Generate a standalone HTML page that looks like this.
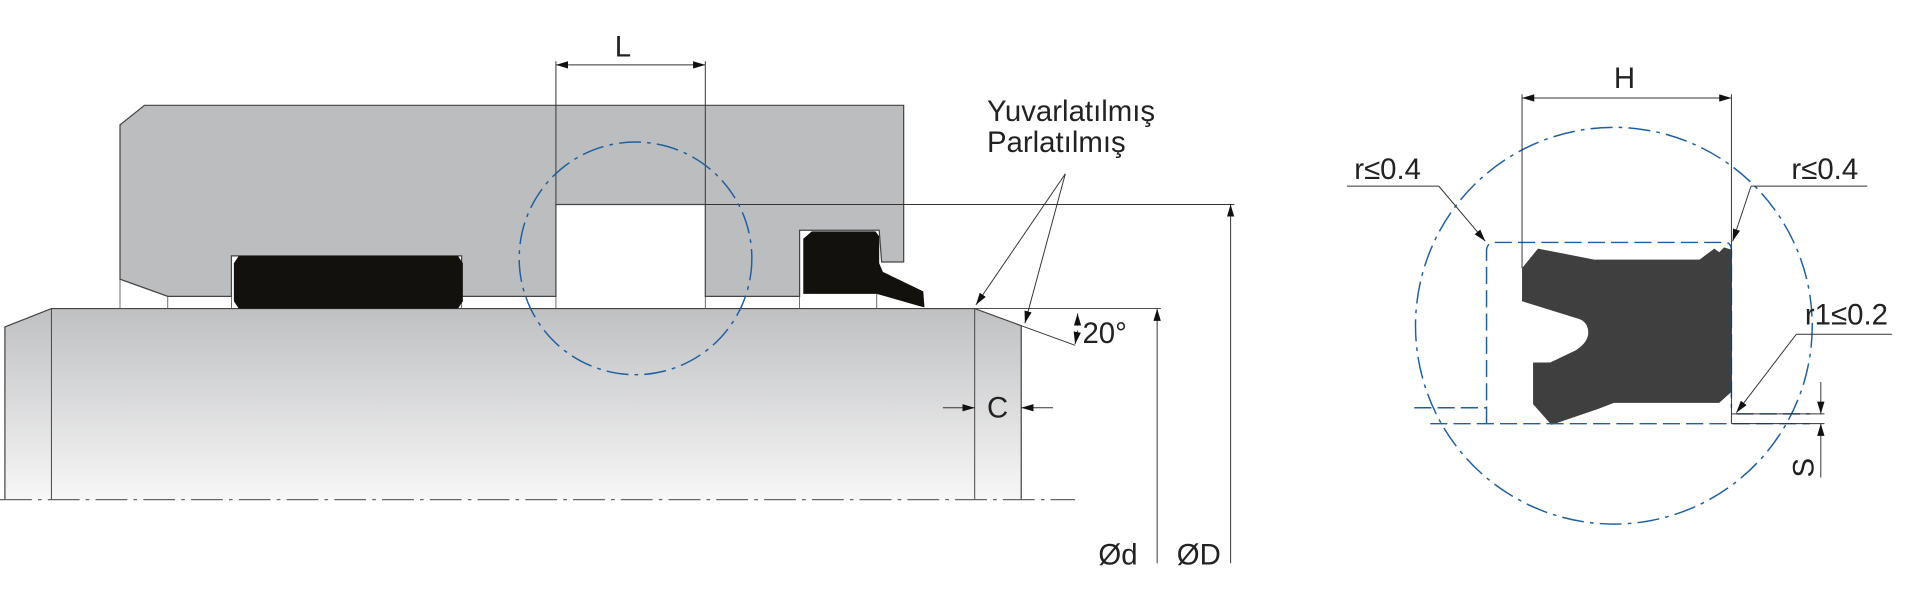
<!DOCTYPE html>
<html><head><meta charset="utf-8"><style>
html,body{margin:0;padding:0;background:#fff;}
svg{display:block;}
text{font-family:"Liberation Sans",sans-serif;fill:#222;}
</style></head><body>
<svg width="1920" height="600" viewBox="0 0 1568 490" xmlns="http://www.w3.org/2000/svg">
<defs>
<linearGradient id="rod" x1="0" y1="0" x2="0" y2="1">
<stop offset="0" stop-color="#bfc0c2"/><stop offset="1" stop-color="#f7f7f7"/>
</linearGradient>
<marker id="ar" markerWidth="10" markerHeight="6" refX="10" refY="3" orient="auto" markerUnits="userSpaceOnUse">
<path d="M0,0 L10,3 L0,6 z" fill="#111"/></marker>
</defs>
<!-- rod -->
<path d="M4,267 L42,252 L796,252 L834,266 L834,408 L4,408 z" fill="url(#rod)"/>
<path d="M4,408 L4,267 L42,252 L796,252 L834,266 L834,408" fill="none" stroke="#444" stroke-width="1"/>
<line x1="42" y1="252" x2="42" y2="408" stroke="#444" stroke-width="0.8"/>
<line x1="796" y1="252" x2="796" y2="408" stroke="#444" stroke-width="0.8"/>
<line x1="0" y1="408" x2="878" y2="408" stroke="#666" stroke-width="1" stroke-dasharray="26,5,3,5"/>
<!-- gap lines -->
<g stroke="#555" stroke-width="0.7">
<line x1="98" y1="228" x2="98" y2="252"/><line x1="137" y1="242" x2="137" y2="252"/>
<line x1="189" y1="242" x2="189" y2="252"/><line x1="377" y1="242" x2="377" y2="252"/>
<line x1="454" y1="242" x2="454" y2="252"/><line x1="576" y1="242" x2="576" y2="252"/>
<line x1="653" y1="242" x2="653" y2="252"/><line x1="716" y1="240" x2="716" y2="252"/>
</g>
<!-- housing -->
<path d="M98,102 L118,86 L738,86 L738,214 L720,214 L718,188 L653,188 L653,242 L576,242 L576,167 L454,167 L454,242 L377,242 L377,209 L189,209 L189,242 L137,242 L98,228 z" fill="#bcbdbf" stroke="#444" stroke-width="1"/>
<!-- o-ring -->
<path d="M195,209 L374,209 L378,215 L378,246 L374,252 L195,252 L191,246 L191,215 z" fill="#12110d"/>
<!-- lip seal -->
<path d="M656,195 L663,189 L715,189 L718,193 L718,215 L721,222 L754,238 L755,251 L751,250 L716,240 L656,240 z" fill="#12110d"/>
<!-- L dim -->
<g stroke="#333" stroke-width="0.8" fill="none">
<line x1="454" y1="50" x2="454" y2="167"/><line x1="576" y1="50" x2="576" y2="167"/>
<line x1="464" y1="53" x2="454" y2="53" marker-end="url(#ar)"/><line x1="464" y1="53" x2="566" y2="53"/><line x1="566" y1="53" x2="576" y2="53" marker-end="url(#ar)"/>
<line x1="576" y1="167" x2="1008" y2="167"/>
<line x1="1005" y1="460" x2="1005" y2="167" marker-end="url(#ar)"/>
<line x1="796" y1="252" x2="948" y2="252"/>
<line x1="945" y1="460" x2="945" y2="252" marker-end="url(#ar)"/>
<line x1="870" y1="142" x2="797" y2="249" marker-end="url(#ar)"/>
<line x1="870" y1="142" x2="837" y2="264" marker-end="url(#ar)"/>
<line x1="834" y1="266" x2="878" y2="282"/>
<line x1="880" y1="266" x2="880" y2="256" marker-end="url(#ar)"/>
<line x1="880" y1="270" x2="878" y2="281" marker-end="url(#ar)"/>
<line x1="770" y1="333" x2="796" y2="333" marker-end="url(#ar)"/>
<line x1="860" y1="333" x2="834" y2="333" marker-end="url(#ar)"/>
</g>
<circle cx="519" cy="211" r="95" fill="none" stroke="#1f5fa0" stroke-width="1.2" stroke-dasharray="18,5,3,5"/>
<text x="502" y="46" font-size="24">L</text>
<text x="806" y="99" font-size="24">Yuvarlatılmış</text>
<text x="806" y="124" font-size="24">Parlatılmış</text>
<text x="884" y="280" font-size="24">20°</text>
<text x="806" y="341" font-size="24">C</text>
<text x="897" y="461" font-size="24">Ød</text>
<text x="961" y="461" font-size="24">ØD</text>
<!-- right detail -->
<circle cx="1318" cy="266" r="162" fill="none" stroke="#1f5fa0" stroke-width="1.2" stroke-dasharray="18,5,3,5"/>
<path d="M1243,219 L1256,203 L1302,212 L1388,212 L1400,203 L1404,206 L1408,202 L1414,204 L1414,320 L1404,329 L1318,329 L1305,334 L1267,347 L1252,330 L1252,296 L1266,296 L1287,286 Q1298,279 1297,270 Q1296,262 1288,260 L1243,246 z" fill="#3f3f3f"/>
<g stroke="#1f5fa0" stroke-width="1.2" fill="none" stroke-dasharray="14,5">
<path d="M1214,346 L1214,205 Q1214,198 1221,198 L1409,198 Q1414,198 1414,205 L1414,333"/>
<line x1="1168" y1="346" x2="1478" y2="346"/>
<line x1="1155" y1="333" x2="1214" y2="333"/>
<line x1="1418" y1="338" x2="1478" y2="338"/>
</g>
<g stroke="#333" stroke-width="0.8" fill="none">
<line x1="1243" y1="77" x2="1243" y2="219"/><line x1="1414" y1="77" x2="1414" y2="346"/>
<line x1="1330" y1="80" x2="1243" y2="80" marker-end="url(#ar)"/><line x1="1330" y1="80" x2="1414" y2="80" marker-end="url(#ar)"/>
<line x1="1100" y1="152" x2="1175" y2="152"/><line x1="1175" y1="152" x2="1213" y2="197" marker-end="url(#ar)"/>
<line x1="1430" y1="152" x2="1525" y2="152"/><line x1="1430" y1="152" x2="1415" y2="197" marker-end="url(#ar)"/>
<line x1="1467" y1="273" x2="1545" y2="273"/><line x1="1467" y1="273" x2="1418" y2="337" marker-end="url(#ar)"/>
<line x1="1414" y1="338" x2="1490" y2="338"/><line x1="1414" y1="346" x2="1490" y2="346"/>
<line x1="1487" y1="312" x2="1487" y2="338" marker-end="url(#ar)"/>
<line x1="1487" y1="390" x2="1487" y2="346" marker-end="url(#ar)"/>
</g>
<text x="1318" y="72" font-size="24">H</text>
<text x="1106" y="146" font-size="24">r≤0.4</text>
<text x="1463" y="146" font-size="24">r≤0.4</text>
<text x="1474" y="265" font-size="24">r1≤0.2</text>
<text x="0" y="0" font-size="24" transform="translate(1481,390) rotate(-90)">S</text>
</svg>
</body></html>
